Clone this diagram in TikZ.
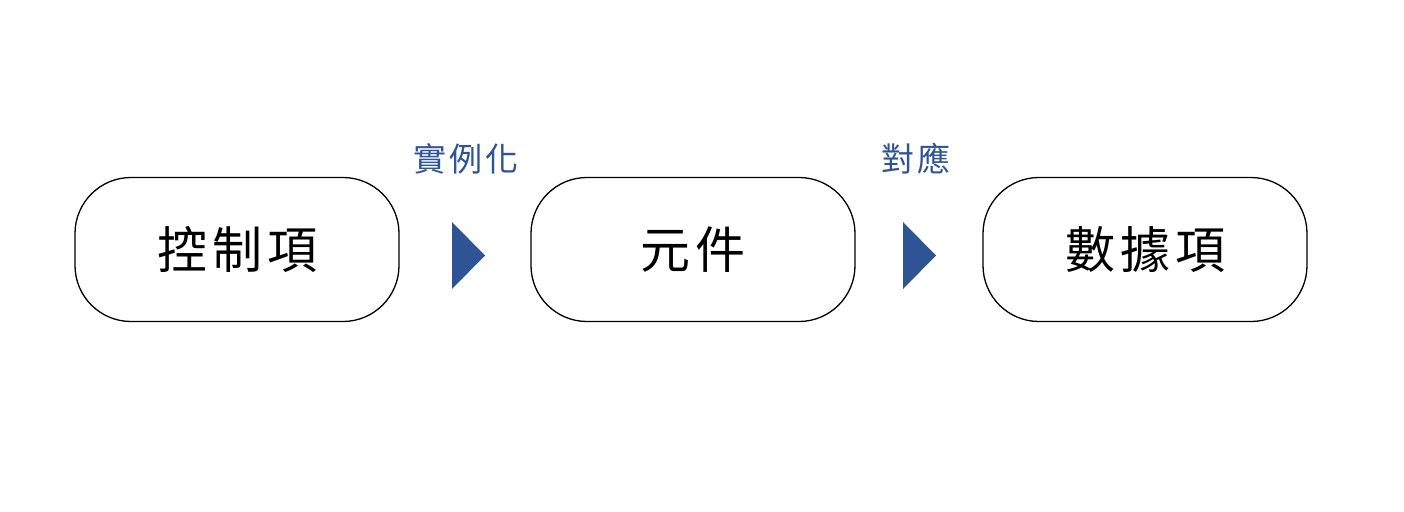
\documentclass[tikz,border=0pt]{standalone}
\usepackage{fontspec}
\newfontfamily\cjk{Noto Sans CJK TC}
\definecolor{accent}{HTML}{2F5496}
\newcommand{\gapk}{\kern5pt}
\newcommand{\gaps}{\kern3pt}
\begin{document}
\begin{tikzpicture}[x=1pt,y=-1pt,
  pill/.style={draw=black,line width=1.3pt,rounded corners=56pt,minimum width=324pt,minimum height=144pt,inner sep=0pt,font=\cjk\fontsize{50}{60}\selectfont},
  lbl/.style={text=accent,inner sep=0pt,font=\cjk\fontsize{33}{40}\selectfont},
  tri/.style={fill=accent,draw=none}]
\useasboundingbox (0,0) rectangle (1404,511);
\node[pill] (a) at (237,249.5) {控\gapk 制\gapk 項};
\node[pill] (b) at (693,249.5) {元\gapk 件};
\node[pill] (c) at (1145,249.5) {數\gapk 據\gapk 項};
\node[lbl] (la) at (466,159) {實\gaps 例\gaps 化};
\node[lbl] (lb) at (916,159) {對\gaps 應};
\coordinate (t1) at (452,222);
\coordinate (t2) at (903,222);
\fill[accent] (t1) -- ++(0,67) -- ++(33,-33.5) -- cycle;
\fill[accent] (t2) -- ++(0,67) -- ++(33,-33.5) -- cycle;
\end{tikzpicture}
\end{document}
